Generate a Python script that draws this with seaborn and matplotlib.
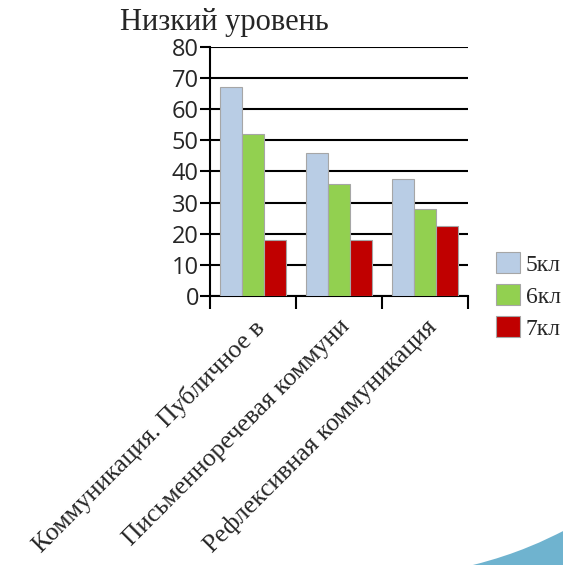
import pandas as pd
import matplotlib
matplotlib.use("Agg")
import matplotlib.pyplot as plt
from matplotlib.patches import PathPatch
from matplotlib.path import Path
import seaborn as sns

# ── Data ────────────────────────────────────────────────
categories = ["Коммуникация. Публичное в",
              "Письменноречевая коммуни",
              "Рефлексивная коммуникация"]
grades = ["5кл", "6кл", "7кл"]
v5 = [67, 46, 37.5]
v6 = [52, 36, 28]
v7 = [18, 18, 22.5]

COLORS = {"5кл": "#b9cde5", "6кл": "#92d050", "7кл": "#c00000"}

df = pd.DataFrame({
    "cat": categories * 3,
    "grade": [g for g in grades for _ in categories],
    "val": v5 + v6 + v7,
})

sns.set_style("white")
plt.rcParams["font.family"] = ["Open Sans", "DejaVu Sans"]

fig = plt.figure(figsize=(5.63, 5.65), dpi=100)
ax = fig.add_axes([0.373, 0.476, 0.458, 0.441])

sns.barplot(data=df, x="cat", y="val", hue="grade", palette=COLORS,
            saturation=1, width=0.77, edgecolor="#a6a6a6", linewidth=0.8,
            ax=ax, zorder=3)

ax.set_ylim(0, 80)
ax.set_xlim(-0.5, 2.5)
ax.set_yticks(range(0, 81, 10))
ax.yaxis.grid(True, color="black", linewidth=1.5, zorder=0)
ax.set_axisbelow(True)
for s in ["top", "right"]:
    ax.spines[s].set_visible(False)
for s in ["left", "bottom"]:
    ax.spines[s].set_color("black")
    ax.spines[s].set_linewidth(1.5)

ax.tick_params(axis="y", direction="out", length=7, width=1.5, color="black",
               left=True, labelsize=17, pad=1)
ax.set_xticks([-0.5, 0.5, 1.5, 2.5], minor=True)
ax.tick_params(axis="x", which="minor", direction="out", length=9, width=1.5,
               color="black", bottom=True)
ax.tick_params(axis="x", which="major", length=0, pad=14)
ax.set_xticks(range(len(categories)))
ax.set_xticklabels(categories, rotation=45, ha="right", va="top",
                   rotation_mode="anchor", family="Liberation Serif", fontsize=18.5)
ax.set_xlabel("")
ax.set_ylabel("")

fig.text(0.398, 0.985, "Низкий уровень", ha="center", va="top",
         family="Liberation Serif", fontsize=22)

leg = ax.legend(loc="center left", bbox_to_anchor=(1.11, 0.0), frameon=False,
                prop={"family": "Liberation Serif", "size": 17},
                handlelength=1.0, handleheight=1.0, handletextpad=0.25,
                labelspacing=0.35, borderpad=0, borderaxespad=0)

# slide decoration in the bottom-right corner
swoosh = Path([(0.84, 0.0), (0.92, 0.02), (0.97, 0.045), (1.0, 0.06),
               (1.0, 0.0), (0.84, 0.0)],
              [Path.MOVETO, Path.CURVE4, Path.CURVE4, Path.CURVE4,
               Path.LINETO, Path.CLOSEPOLY])
fig.patches.append(PathPatch(swoosh, transform=fig.transFigure,
                             facecolor="#6fb3cf", edgecolor="none"))

fig.savefig("out.png", dpi=100)
